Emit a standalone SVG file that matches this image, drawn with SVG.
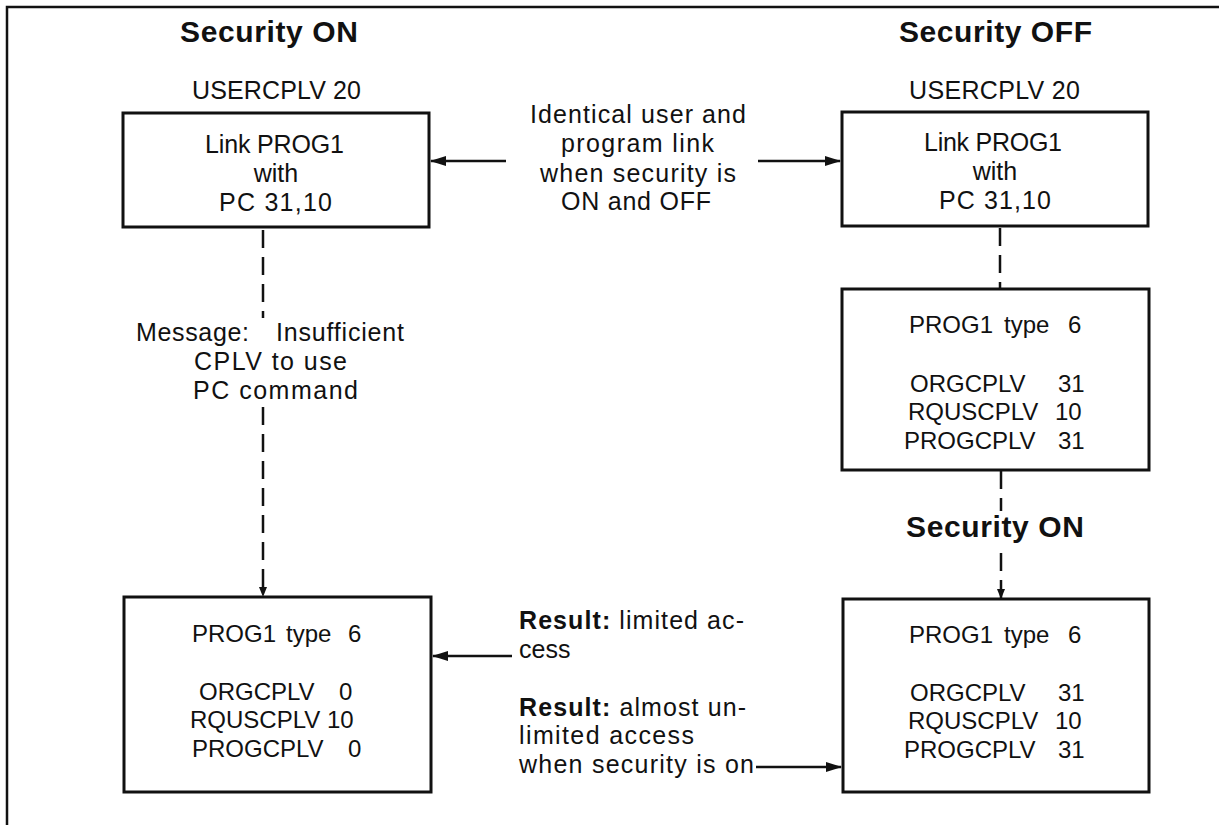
<svg xmlns="http://www.w3.org/2000/svg" width="1219" height="825" viewBox="0 0 1219 825">
<style>
text{font-family:"Liberation Sans",Arial,Helvetica,sans-serif;font-size:25px;fill:#111}
.s{font-size:24px}
.t{font-weight:bold;font-size:30px}
.b{font-weight:bold}
.m{text-anchor:middle}
.box{fill:#fff;stroke:#111;stroke-width:3}
.ln{stroke:#111;stroke-width:2.5;fill:none}
.ds{stroke:#111;stroke-width:2.5;fill:none;stroke-dasharray:18 9}
</style>
<defs>
<marker id="ah" markerUnits="userSpaceOnUse" markerWidth="16" markerHeight="12" viewBox="0 0 16 12" refX="15" refY="6" orient="auto">
<path d="M0,1 L16,6 L0,11 Z" fill="#111"/>
</marker>
<marker id="ad" markerUnits="userSpaceOnUse" markerWidth="10" markerHeight="10" viewBox="0 0 10 10" refX="9" refY="5" orient="auto">
<path d="M0,1 L10,5 L0,9 Z" fill="#111"/>
</marker>
</defs>
<path class="ln" d="M7,825 V7 H1219" stroke-width="3"/>

<g id="titles">
<text class="t" x="180" y="42" textLength="178">Security ON</text>
<text class="t" x="899" y="42" textLength="193">Security OFF</text>
<text x="192" y="99" textLength="169">USERCPLV 20</text>
<text x="909" y="99" textLength="171">USERCPLV 20</text>
</g>

<g id="link-on">
<rect class="box" x="123" y="113" width="306" height="114"/>
<text x="205" y="153" textLength="139">Link PROG1</text>
<text class="m" x="276" y="182">with</text>
<text x="219" y="211" textLength="113">PC 31,10</text>
</g>

<g id="link-off">
<rect class="box" x="842" y="112" width="306" height="114"/>
<text x="924" y="151" textLength="138">Link PROG1</text>
<text class="m" x="995" y="180">with</text>
<text x="939" y="209" textLength="112">PC 31,10</text>
</g>

<g id="identical-note">
<text x="530" y="123" textLength="216">Identical user and</text>
<text x="561" y="152" textLength="153">program link</text>
<text x="540" y="182" textLength="196">when security is</text>
<text x="561" y="210" textLength="150">ON and OFF</text>
</g>

<g id="message">
<text y="341"><tspan x="136" textLength="113">Message:</tspan><tspan x="276" textLength="128">Insufficient</tspan></text>
<text x="194" y="370" textLength="153">CPLV to use</text>
<text x="193" y="399" textLength="165">PC command</text>
</g>

<g id="prog-off" class="s">
<rect class="box" x="842" y="289" width="307" height="181"/>
<text class="s" y="333"><tspan x="909">PROG1</tspan><tspan x="1004">type</tspan><tspan x="1068">6</tspan></text>
<text class="s" y="392"><tspan x="910">ORGCPLV</tspan><tspan x="1058">31</tspan></text>
<text class="s" y="420"><tspan x="908">RQUSCPLV</tspan><tspan x="1055">10</tspan></text>
<text class="s" y="449"><tspan x="904">PROGCPLV</tspan><tspan x="1058">31</tspan></text>
</g>

<g id="security-on-mid">
<text class="t" x="906" y="537" textLength="178">Security ON</text>
</g>

<g id="prog-on-left">
<rect class="box" x="124" y="597" width="307" height="195"/>
<text class="s" y="642"><tspan x="192">PROG1</tspan><tspan x="286">type</tspan><tspan x="348">6</tspan></text>
<text class="s" y="700"><tspan x="199">ORGCPLV</tspan><tspan x="339">0</tspan></text>
<text class="s" y="728"><tspan x="190">RQUSCPLV</tspan><tspan x="327">10</tspan></text>
<text class="s" y="757"><tspan x="192">PROGCPLV</tspan><tspan x="348">0</tspan></text>
</g>

<g id="prog-on-right">
<rect class="box" x="843" y="599" width="306" height="193"/>
<text class="s" y="643"><tspan x="909">PROG1</tspan><tspan x="1004">type</tspan><tspan x="1068">6</tspan></text>
<text class="s" y="701"><tspan x="910">ORGCPLV</tspan><tspan x="1058">31</tspan></text>
<text class="s" y="729"><tspan x="908">RQUSCPLV</tspan><tspan x="1055">10</tspan></text>
<text class="s" y="758"><tspan x="904">PROGCPLV</tspan><tspan x="1058">31</tspan></text>
</g>

<g id="results">
<text x="519" y="629" textLength="225"><tspan class="b">Result:</tspan> limited ac-</text>
<text x="519" y="658">cess</text>
<text x="519" y="716" textLength="227"><tspan class="b">Result:</tspan> almost un-</text>
<text x="519" y="744" textLength="175">limited access</text>
<text x="519" y="773" textLength="235">when security is on</text>
</g>

<g id="connectors">
<line class="ln" x1="506" y1="161" x2="431" y2="161" marker-end="url(#ah)"/>
<line class="ln" x1="758" y1="161" x2="840" y2="161" marker-end="url(#ah)"/>
<line class="ds" x1="263" y1="230" x2="263" y2="318"/>
<line class="ds" x1="263" y1="407" x2="263" y2="596" marker-end="url(#ad)"/>
<line class="ds" x1="1000" y1="228" x2="1000" y2="289"/>
<line class="ds" x1="1001" y1="471" x2="1001" y2="511"/>
<line class="ds" x1="1001" y1="553" x2="1001" y2="598" marker-end="url(#ad)"/>
<line class="ln" x1="512" y1="656" x2="433" y2="656" marker-end="url(#ah)"/>
<line class="ln" x1="756" y1="767" x2="841" y2="767" marker-end="url(#ah)"/>
</g>
</svg>
